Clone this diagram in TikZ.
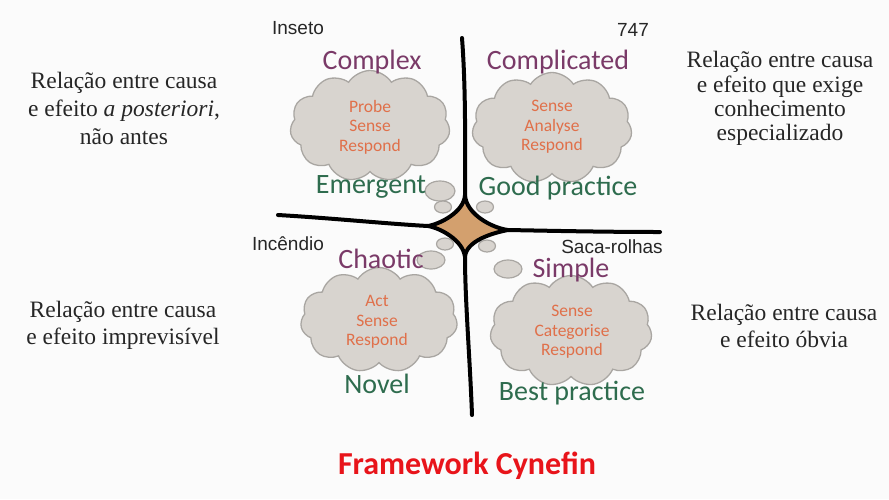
\documentclass[tikz,border=0pt]{standalone}
\usepackage{fontspec}
\setmainfont{Liberation Serif}
\newfontfamily\hand{Carlito}
\newfontfamily\arialf{Liberation Sans}
\usetikzlibrary{shapes.symbols,shapes.geometric}
\definecolor{bgc}{HTML}{FBFBFB}
\definecolor{purp}{HTML}{7A3A68}
\definecolor{grn}{HTML}{2E6C4E}
\definecolor{org}{HTML}{E0704A}
\definecolor{cloudfill}{HTML}{D8D4CF}
\definecolor{cloudline}{HTML}{A9A6A2}
\definecolor{startan}{HTML}{D3A06E}
\definecolor{titred}{HTML}{E8141A}
\tikzset{
  domaintitle/.style={font=\hand\fontsize{28}{30}\selectfont, text=purp},
  practicetxt/.style={font=\hand\fontsize{28}{30}\selectfont, text=grn},
  thought/.style={cloud, cloud puffs=11, cloud puff arc=115, aspect=1.45, fill=cloudfill, draw=cloudline, line width=1.3pt, minimum width=160pt, minimum height=111pt},
  stepstxt/.style={font=\hand\fontsize{17.5}{19.5}\selectfont, text=org, align=center},
  exampletxt/.style={font=\arialf\fontsize{19}{20}\selectfont, text=black!85},
  relationtxt/.style={font=\fontsize{23.5}{28}\selectfont, text=black!85, align=center},
  blob/.style={ellipse, fill=cloudfill, draw=cloudline, line width=1.2pt, inner sep=0pt},
  divider/.style={line width=4pt, black, line cap=round}
}
\begin{document}
\begin{tikzpicture}[x=1pt,y=-1pt]
\fill[bgc] (0,0) rectangle (889,499);
\useasboundingbox (0,0) rectangle (889,499);

% clouds
\node[thought] (cx) at (370,126) {};
\node[thought] (cd) at (552,128) {};
\node[thought, minimum width=157pt, minimum height=105pt] (ch) at (379,320) {};
\node[thought, minimum width=162pt] (sm) at (571,331) {};

\node[stepstxt] (cxs) at (370,127) {Probe\\Sense\\Respond};
\node[stepstxt] (cds) at (552,127) {Sense\\Analyse\\Respond};
\node[stepstxt] (chs) at (377,322) {Act\\Sense\\Respond};
\node[stepstxt] (sms) at (572,332) {Sense\\Categorise\\Respond};

% small blobs
\node[blob, minimum width=30pt, minimum height=20pt] (b1) at (440,191) {};
\node[blob, minimum width=17pt, minimum height=12pt] (b2) at (443,207) {};
\node[blob, minimum width=17pt, minimum height=12pt] (b3) at (485,207) {};
\node[blob, minimum width=17pt, minimum height=12pt] (b4) at (445,244) {};
\node[blob, minimum width=17pt, minimum height=12pt] (b5) at (487,246) {};
\node[blob, minimum width=28pt, minimum height=18pt] (b6) at (431,260) {};
\node[blob, minimum width=28pt, minimum height=18pt] (b7) at (508,269) {};

% star and dividers
\coordinate (T) at (465,195);
\coordinate (R) at (508,230);
\coordinate (B) at (465,257);
\coordinate (L) at (428,226);
\coordinate (vt) at (462,38);
\coordinate (vb) at (472,415);
\coordinate (hl) at (278,215);
\coordinate (hr) at (660,232);
\filldraw[fill=startan, line width=4pt, line join=round]
  (T) .. controls (466,214) and (492,228) .. (R)
      .. controls (492,233) and (466,241) .. (B)
      .. controls (463,240) and (440,228) .. (L)
      .. controls (440,224) and (464,212) .. (T) -- cycle;
\draw[divider] (vt) .. controls (466,90) and (465,150) .. (T);
\draw[divider] (B) .. controls (465,300) and (470,360) .. (vb);
\draw[divider] (hl) .. controls (330,218) and (390,224) .. (L);
\draw[divider] (R) .. controls (560,231) and (610,232) .. (hr);

% domain titles
\node[domaintitle] (cxt) at (372,62) {Complex};
\node[domaintitle] (cdt) at (558,62) {Complicated};
\node[domaintitle] (cht) at (381,259) {Chaotic};
\node[domaintitle] (smt) at (571,270) {Simple};

\node[practicetxt] (cxp) at (371,187) {Emergent};
\node[practicetxt] (cdp) at (558,188) {Good practice};
\node[practicetxt] (chp) at (377,384) {Novel};
\node[practicetxt] (smp) at (572,393) {Best practice};

% examples
\node[exampletxt] (e1) at (298,28) {Inseto};
\node[exampletxt] (e2) at (633,30) {747};
\node[exampletxt] (e3) at (288,244) {Incêndio};
\node[exampletxt] (e4) at (612,247) {Saca-rolhas};

% relations
\node[relationtxt] (r1) at (124,108) {Relação entre causa\\e efeito \textit{a posteriori},\\não antes};
\node[relationtxt, font=\fontsize{23.5}{24.3}\selectfont] (r2) at (780,98.5) {Relação entre causa\\e efeito que exige\\conhecimento\\especializado};
\node[relationtxt, font=\fontsize{23.5}{27}\selectfont] (r3) at (123,325.5) {Relação entre causa\\e efeito imprevisível};
\node[relationtxt, font=\fontsize{23.5}{27}\selectfont] (r4) at (784,325.5) {Relação entre causa\\e efeito óbvia};

\node[font=\hand\bfseries\fontsize{32}{34}\selectfont, text=titred] (title) at (467,466) {Framework Cynefin};
\end{tikzpicture}
\end{document}
